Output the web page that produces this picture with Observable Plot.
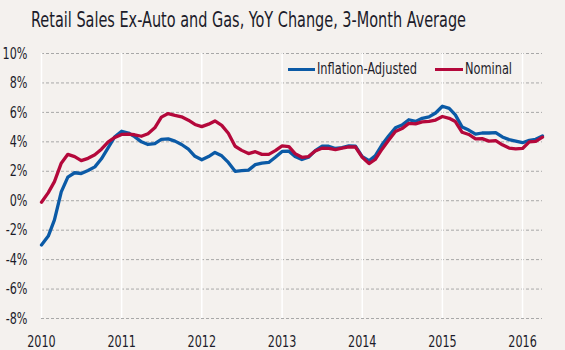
<!DOCTYPE html>
<html>
<head>
<meta charset="utf-8">
<script src="https://cdn.jsdelivr.net/npm/d3@7"></script>
<script src="https://cdn.jsdelivr.net/npm/@observablehq/plot@0.6"></script>
<style>
  html, body { margin: 0; padding: 0; background: #f4f1ee; }
  #wrap { position: relative; width: 565px; height: 350px; background: #f4f1ee; overflow: hidden;
    font-family: "Liberation Sans Narrow", "DejaVu Sans Condensed", "Liberation Sans", sans-serif; }
  #title { position: absolute; left: 31px; top: 8px; font-size: 21px; line-height: 24px; color: #1c1c2a; white-space: nowrap; transform-origin: 0 50%; }
  #chart { position: absolute; left: 0; top: 40px; }
  .lg-sw { position: absolute; height: 3px; }
  .lg-tx { position: absolute; font-size: 16px; line-height: 18px; color: #1c1c2a; white-space: nowrap; transform-origin: 0 50%; }
</style>
</head>
<body>
<div id="wrap">
  <div id="title">Retail Sales Ex-Auto and Gas, YoY Change, 3-Month Average</div>
  <div id="chart"></div>
</div>
<script>
// Monthly observations, Jan 2010 – Apr 2016 (percent, YoY change, 3-month average)
const startYear = 2010;
const inflationAdjusted = [
  -3.0, -2.4, -1.3, 0.6, 1.6, 1.9, 1.85, 2.05, 2.3, 2.85, 3.6, 4.35,
  4.72, 4.6, 4.35, 4.0, 3.82, 3.88, 4.17, 4.2, 4.05, 3.82, 3.5, 3.02,
  2.78, 3.0, 3.28, 3.05, 2.6, 2.0, 2.04, 2.08, 2.45, 2.56, 2.6, 2.95,
  3.35, 3.36, 3.0, 2.8, 2.95, 3.4, 3.7, 3.7, 3.55, 3.6, 3.72, 3.7,
  3.0, 2.72, 3.05, 3.8, 4.4, 4.95, 5.14, 5.5, 5.39, 5.6, 5.7, 5.96,
  6.42, 6.27, 5.83, 5.0, 4.8, 4.52, 4.6, 4.6, 4.63, 4.33, 4.15, 4.05,
  3.94, 4.1, 4.17, 4.4
];
const nominal = [
  -0.1, 0.55, 1.3, 2.55, 3.15, 3.0, 2.72, 2.88, 3.12, 3.5, 4.0, 4.3,
  4.5, 4.52, 4.48, 4.38, 4.55, 4.95, 5.68, 5.92, 5.8, 5.7, 5.47, 5.18,
  5.03, 5.2, 5.42, 5.12, 4.58, 3.7, 3.42, 3.2, 3.33, 3.15, 3.15, 3.4,
  3.72, 3.68, 3.2, 2.95, 3.0, 3.38, 3.57, 3.55, 3.47, 3.57, 3.65, 3.65,
  2.95, 2.52, 2.8, 3.5, 4.1, 4.7, 4.9, 5.25, 5.22, 5.35, 5.39, 5.48,
  5.72, 5.6, 5.38, 4.65, 4.5, 4.2, 4.22, 4.05, 4.08, 3.8, 3.58, 3.52,
  3.55, 4.0, 4.03, 4.32
];
const seriesNames = ["Inflation-Adjusted", "Nominal"];
const seriesColors = ["#0b5aa6", "#b4083b"];
const yTicks = [-8, -6, -4, -2, 0, 2, 4, 6, 8, 10];
const yearTicks = [2010, 2011, 2012, 2013, 2014, 2015, 2016];

const FONT = '"Liberation Sans Narrow", "DejaVu Sans Condensed", "Liberation Sans", sans-serif';
const ctx = document.createElement("canvas").getContext("2d");
function measure(text, size) { ctx.font = size + "px " + FONT; return ctx.measureText(text).width; }

const monthDate = i => new Date(Date.UTC(startYear, i, 1));
const rows = [];
[inflationAdjusted, nominal].forEach((vals, s) => {
  vals.forEach((v, i) => rows.push({date: monthDate(i), value: v, series: seriesNames[s]}));
});
const yearDates = yearTicks.map(y => new Date(Date.UTC(y, 0, 1)));

const chart = Plot.plot({
  width: 565,
  height: 310,
  marginLeft: 41,
  marginRight: 23,
  marginTop: 13,
  marginBottom: 32,
  style: {
    background: "transparent",
    fontFamily: FONT,
    fontSize: "16px",
    color: "#1c1c2a",
    overflow: "visible"
  },
  x: {
    type: "utc",
    domain: [monthDate(0), monthDate(inflationAdjusted.length - 1)],
    ticks: yearDates,
    tickFormat: d => String(d.getUTCFullYear()),
    tickSize: 0,
    tickPadding: 17,
    label: null
  },
  y: {
    domain: [-8, 10],
    ticks: yTicks,
    tickFormat: d => d + "%",
    tickSize: 0,
    tickPadding: 14,
    label: null
  },
  color: {domain: seriesNames, range: seriesColors},
  marks: [
    Plot.ruleY(yTicks, {stroke: "#a8a8a8", strokeDasharray: "3,2", strokeWidth: 1}),
    Plot.ruleX(yearDates, {stroke: "#ffffff", strokeWidth: 1.5}),
    Plot.line(rows, {x: "date", y: "value", z: "series", stroke: "series", strokeWidth: 3.3, curve: "linear"})
  ]
});
chart.style.display = "block";
document.getElementById("chart").appendChild(chart);

// Condense axis text horizontally (reference uses a condensed face)
const axisScale = Math.min(1, 28.5 / measure("2010", 16));
chart.querySelectorAll("text").forEach(t => {
  const tr = t.getAttribute("transform") || "";
  t.setAttribute("transform", tr + " scale(" + axisScale + ",1)");
});

// Title condensing
const title = document.getElementById("title");
const tScale = Math.min(1, 435 / measure(title.textContent, 21));
title.style.transform = "scaleX(" + tScale + ")";

// Legend (HTML overlay)
const wrap = document.getElementById("wrap");
const lgScale = Math.min(1, 100 / measure(seriesNames[0], 16));
const legendLayout = [
  {sw: [288, 315], tx: 317},
  {sw: [435, 463], tx: 465}
];
seriesNames.forEach((name, i) => {
  const sw = document.createElement("div");
  sw.className = "lg-sw";
  sw.style.left = legendLayout[i].sw[0] + "px";
  sw.style.width = (legendLayout[i].sw[1] - legendLayout[i].sw[0]) + "px";
  sw.style.top = "68px";
  sw.style.background = seriesColors[i];
  const tx = document.createElement("div");
  tx.className = "lg-tx";
  tx.style.left = legendLayout[i].tx + "px";
  tx.style.top = "60px";
  tx.style.transform = "scaleX(" + lgScale + ")";
  tx.textContent = name;
  wrap.appendChild(sw);
  wrap.appendChild(tx);
});
</script>
</body>
</html>
